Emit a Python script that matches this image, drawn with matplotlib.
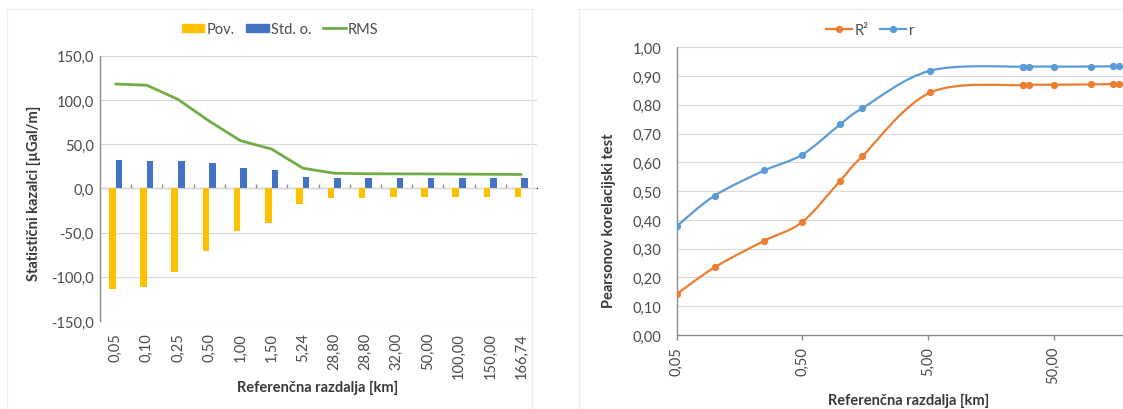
import numpy as np
import matplotlib
matplotlib.use("Agg")
import matplotlib.pyplot as plt
from matplotlib.path import Path
from matplotlib.patches import PathPatch, Rectangle
from matplotlib.lines import Line2D
from matplotlib.ticker import FuncFormatter, FixedLocator, NullFormatter

plt.rcParams['font.family'] = ['Lato', 'DejaVu Sans']

# podatki (odčitani s slike)
razdalje = ["0,05", "0,10", "0,25", "0,50", "1,00", "1,50", "5,24",
            "28,80", "28,80", "32,00", "50,00", "100,00", "150,00", "166,74"]
razdalje_km = [0.05, 0.10, 0.25, 0.50, 1.00, 1.50, 5.24,
               28.80, 28.80, 32.00, 50.00, 100.00, 150.00, 166.74]
pov = [-113.9, -112.0, -95.0, -71.4, -48.2, -38.7, -17.8,
       -10.6, -10.5, -10.2, -9.9, -9.8, -9.7, -9.7]
std_o = [32.3, 31.1, 31.1, 29.2, 23.5, 20.9, 13.3,
         12.2, 12.0, 11.9, 11.8, 11.7, 11.6, 11.6]
rms = [118.0, 116.6, 100.6, 76.0, 53.9, 44.4, 22.8,
       17.1, 16.5, 16.4, 16.3, 16.1, 15.9, 15.7]

r = [0.378, 0.484, 0.572, 0.627, 0.732, 0.788, 0.919,
     0.933, 0.933, 0.933, 0.933, 0.933, 0.934, 0.934]
r2 = [0.142, 0.235, 0.328, 0.393, 0.536, 0.621, 0.843,
      0.869, 0.870, 0.870, 0.870, 0.871, 0.872, 0.872]

RUMENA = '#FFC000'
MODRA = '#4472C4'
ZELENA = '#70AD47'
ORANZNA = '#ED7D31'
SVMODRA = '#5B9BD5'
TEKST = '#4a4a4a'
NASLOV = '#383838'
OS = '#8c8c8c'
MREZA = '#d9d9d9'
VEL = 10.5

W, H = 1123, 410
fig = plt.figure(figsize=(W / 100, H / 100), dpi=100)
fig.patch.set_facecolor('white')


def fx(px):
    return px / W


def fy(py):
    return 1 - py / H


def vejica(fmt):
    return FuncFormatter(lambda v, pos: (fmt % v).replace('.', ','))


# okvirja grafikonov (zelo svetla)
fig.patches.append(Rectangle((fx(7), -0.05), fx(532 - 7), fy(10) + 0.05,
                             transform=fig.transFigure, fill=False,
                             edgecolor='#ececec', lw=0.8))
fig.patches.append(Rectangle((fx(579), -0.05), 0.6, fy(10) + 0.05,
                             transform=fig.transFigure, fill=False,
                             edgecolor='#ececec', lw=0.8))

# ---------------- levi graf ----------------
ax1 = fig.add_axes([fx(100), fy(322), fx(437), (322 - 56.7) / H])
x = np.arange(len(razdalje))
sirina = 0.21
ax1.bar(x - sirina / 2, pov, sirina, color=RUMENA, zorder=3)
ax1.bar(x + sirina / 2, std_o, sirina, color=MODRA, zorder=3)
ax1.plot(x, rms, color=ZELENA, lw=2.0, zorder=4, solid_capstyle='round')
ax1.set_xlim(-0.5, len(razdalje) - 0.5)
ax1.set_ylim(-150, 150)
ax1.set_yticks([-150, -100, -50, 0, 50, 100, 150])
ax1.yaxis.set_major_formatter(vejica('%.1f'))
ax1.grid(axis='y', color=MREZA, lw=0.8, zorder=0)
for s in ['top', 'right', 'bottom']:
    ax1.spines[s].set_visible(False)
ax1.spines['left'].set_color(OS)
ax1.spines['left'].set_linewidth(1.0)
ax1.set_xticks(x)
ax1.set_xticklabels(razdalje, rotation=90, va='top', ha='center')
ax1.tick_params(axis='x', length=0, pad=8, labelsize=VEL, labelcolor=TEKST)
ax1.tick_params(axis='y', length=0, pad=4.5, labelsize=VEL, labelcolor=TEKST)

# ničelna os s kljukicami med kategorijami
nic = ax1.secondary_xaxis(0.5, functions=(lambda v: v, lambda v: v))
nic.spines['bottom'].set_color(OS)
nic.spines['bottom'].set_linewidth(1.0)
nic.set_xticks(x[1:] - 0.5)
nic.xaxis.set_major_formatter(NullFormatter())
nic.tick_params(axis='x', direction='out', length=3, width=1.0, color=OS)

fig.text(fx(34), fy(193), 'Statistični kazalci [µGal/m]', rotation=90,
         ha='center', va='center', fontsize=VEL, fontweight='bold', color=NASLOV)
fig.text(fx(318), fy(388), 'Referenčna razdalja [km]',
         ha='center', va='center', fontsize=VEL, fontweight='bold', color=NASLOV)

roc1 = [Rectangle((0, 0), 1, 1, color=RUMENA), Rectangle((0, 0), 1, 1, color=MODRA),
        Line2D([], [], color=ZELENA, lw=2.0)]
fig.legend(roc1, ['Pov.', 'Std. o.', 'RMS'], loc='center',
           bbox_to_anchor=(fx(280), fy(30)), ncol=3, frameon=False,
           fontsize=VEL, handlelength=1.55, handleheight=0.5, handletextpad=0.15,
           columnspacing=0.8, labelcolor=TEKST)

# ---------------- desni graf ----------------


def gladka_pot(xs, ys):
    # Bezierjeve krivulje skozi točke (v log x prostoru), kot "smoothed line"
    lx = np.log10(xs)
    ys = np.asarray(ys, dtype=float)
    keep = [0] + [i for i in range(1, len(lx)) if lx[i] != lx[i - 1]]
    p = np.column_stack([lx[keep], ys[keep]])
    n = len(p)
    verts = [p[0]]
    codes = [Path.MOVETO]
    for i in range(n - 1):
        p0 = p[max(i - 1, 0)]
        p1 = p[i]
        p2 = p[i + 1]
        p3 = p[min(i + 2, n - 1)]
        verts += [p1 + (p2 - p0) / 6, p2 - (p3 - p1) / 6, p2]
        codes += [Path.CURVE4] * 3
    verts = np.array(verts)
    verts[:, 0] = 10 ** verts[:, 0]
    return Path(verts, codes)


ax2 = fig.add_axes([fx(676.7), fy(336), fx(502.4), (336 - 48.3) / H])
ax2.set_xscale('log')
ax2.set_xlim(0.05, 500)
ax2.set_ylim(0, 1)
for ys, barva in [(r2, ORANZNA), (r, SVMODRA)]:
    ax2.add_patch(PathPatch(gladka_pot(razdalje_km, ys), fill=False,
                            edgecolor=barva, lw=1.6, zorder=3))
    ax2.plot(razdalje_km, ys, 'o', ms=4.2, color=barva, zorder=4)
ax2.set_yticks(np.arange(0, 1.001, 0.1))
ax2.yaxis.set_major_formatter(vejica('%.2f'))
ax2.xaxis.set_major_locator(FixedLocator([0.05, 0.5, 5, 50]))
ax2.xaxis.set_minor_locator(FixedLocator([]))
ax2.xaxis.set_major_formatter(vejica('%.2f'))
ax2.grid(axis='y', color=MREZA, lw=0.8, zorder=0)
for s in ['top', 'right']:
    ax2.spines[s].set_visible(False)
for s in ['left', 'bottom']:
    ax2.spines[s].set_color(OS)
    ax2.spines[s].set_linewidth(1.0)
for lab in ax2.get_xticklabels():
    lab.set_rotation(90)
    lab.set_va('top')
ax2.tick_params(axis='x', direction='out', length=3.5, width=1.0, color=OS,
                pad=4.5, labelsize=VEL, labelcolor=TEKST)
ax2.tick_params(axis='y', length=0, pad=11, labelsize=VEL, labelcolor=TEKST)

fig.text(fx(608.5), fy(221), 'Pearsonov korelacijski test', rotation=90,
         ha='center', va='center', fontsize=VEL, fontweight='bold', color=NASLOV)
fig.text(fx(909), fy(401), 'Referenčna razdalja [km]',
         ha='center', va='center', fontsize=VEL, fontweight='bold', color=NASLOV)

roc2 = [Line2D([], [], color=ORANZNA, lw=1.6, marker='o', ms=4.2),
        Line2D([], [], color=SVMODRA, lw=1.6, marker='o', ms=4.2)]
fig.legend(roc2, ['R²', 'r'], loc='center', bbox_to_anchor=(fx(870), fy(31)),
           ncol=2, frameon=False, fontsize=VEL, handlelength=1.8,
           handletextpad=0.15, columnspacing=0.8, labelcolor=TEKST)

fig.savefig('out.png', dpi=100, facecolor='white')
